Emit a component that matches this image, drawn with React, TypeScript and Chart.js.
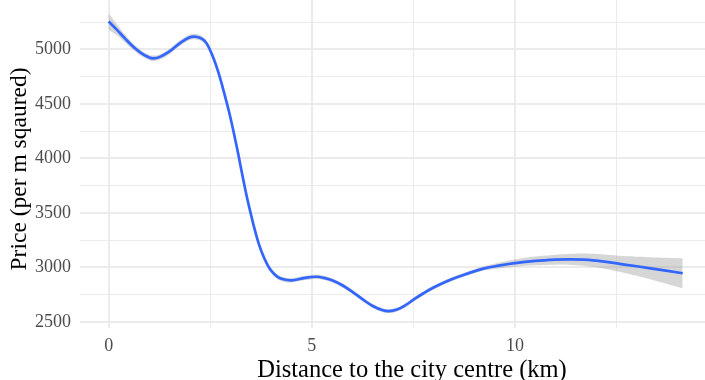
import React, { useEffect, useRef } from "react";
import { Chart, registerables } from "chart.js";

Chart.register(...registerables);

const distanceKm = [0, 0.2, 0.4, 0.6, 0.8, 1.0, 1.1, 1.25, 1.5, 1.75, 2.0, 2.15, 2.3, 2.4, 2.5, 2.6, 2.7, 2.8, 2.9, 3.0, 3.1, 3.2, 3.3, 3.4, 3.5, 3.6, 3.7, 3.8, 3.9, 4.0, 4.15, 4.3, 4.5, 4.8, 5.1, 5.3, 5.5, 5.75, 6.0, 6.25, 6.5, 6.75, 6.9, 7.1, 7.3, 7.5, 7.75, 8.0, 8.4, 8.8, 9.2, 9.6, 10.0, 10.5, 11.0, 11.3, 11.7, 12.2, 12.7, 13.3, 14.13];
const fittedPrice = [5255, 5180, 5100, 5025, 4965, 4925, 4917, 4928, 4980, 5055, 5110, 5115, 5095, 5060, 4990, 4900, 4790, 4660, 4520, 4370, 4200, 4020, 3830, 3650, 3490, 3340, 3210, 3110, 3030, 2970, 2915, 2890, 2880, 2900, 2913, 2903, 2880, 2835, 2775, 2707, 2645, 2606, 2598, 2613, 2650, 2702, 2762, 2815, 2884, 2938, 2985, 3015, 3038, 3058, 3070, 3073, 3070, 3052, 3025, 2993, 2945];
const upperBand = [5330, 5230, 5138, 5055, 4992, 4950, 4942, 4953, 5005, 5080, 5135, 5140, 5120, 5082, 5012, 4922, 4812, 4682, 4542, 4392, 4222, 4042, 3852, 3672, 3512, 3362, 3232, 3132, 3052, 2992, 2937, 2912, 2900, 2920, 2933, 2923, 2900, 2855, 2793, 2725, 2663, 2624, 2616, 2631, 2668, 2720, 2780, 2833, 2902, 2956, 3005, 3041, 3071, 3098, 3116, 3123, 3127, 3118, 3103, 3093, 3083];
const lowerBand = [5180, 5130, 5062, 4995, 4938, 4900, 4892, 4903, 4955, 5030, 5085, 5090, 5070, 5038, 4968, 4878, 4768, 4638, 4498, 4348, 4178, 3998, 3808, 3628, 3468, 3318, 3188, 3088, 3008, 2948, 2893, 2868, 2860, 2880, 2893, 2883, 2860, 2815, 2757, 2689, 2627, 2588, 2580, 2595, 2632, 2684, 2744, 2797, 2866, 2920, 2965, 2989, 3005, 3018, 3024, 3023, 3013, 2986, 2947, 2893, 2807];

const xTicks = [0, 2.5, 5, 7.5, 10, 12.5];
const yTicks = [2500, 2750, 3000, 3250, 3500, 3750, 4000, 4250, 4500, 4750, 5000, 5250];

const xTitle = "Distance to the city centre (km)";
const yTitle = "Price (per m sqaured)";

const SERIF = "'Liberation Serif', 'Times New Roman', serif";

export default function App() {
  const ref = useRef<HTMLCanvasElement | null>(null);

  useEffect(() => {
    document.body.style.margin = "0";
    const canvas = ref.current;
    if (!canvas) return;

    const toPts = (ys: number[]) => distanceKm.map((x, i) => ({ x, y: ys[i] }));

    const titlePlugin = {
      id: "axisTitles",
      afterDraw(chart: any) {
        const ctx = chart.ctx;
        ctx.save();
        ctx.fillStyle = "#000000";
        ctx.textAlign = "center";
        ctx.textBaseline = "alphabetic";
        ctx.font = `24.5px ${SERIF}`;
        ctx.fillText(xTitle, 412, 377);
        ctx.font = `23.5px ${SERIF}`;
        ctx.translate(26, 169);
        ctx.rotate(-Math.PI / 2);
        ctx.fillText(yTitle, 0, 0);
        ctx.restore();
      },
    };

    const chart = new Chart(canvas, {
      type: "line",
      data: {
        datasets: [
          {
            label: "upper",
            data: toPts(upperBand),
            borderWidth: 0,
            borderColor: "rgba(0,0,0,0)",
            pointRadius: 0,
            tension: 0.4,
            fill: false,
            order: 2,
          },
          {
            label: "lower",
            data: toPts(lowerBand),
            borderWidth: 0,
            borderColor: "rgba(0,0,0,0)",
            backgroundColor: "rgba(153,153,153,0.4)",
            pointRadius: 0,
            tension: 0.4,
            fill: "-1",
            order: 2,
          },
          {
            label: "fit",
            data: toPts(fittedPrice),
            borderColor: "#3366FF",
            borderWidth: 2.7,
            pointRadius: 0,
            tension: 0.4,
            fill: false,
            order: 1,
          },
        ],
      },
      options: {
        responsive: true,
        maintainAspectRatio: false,
        animation: false,
        layout: { padding: 0 },
        plugins: {
          legend: { display: false },
          tooltip: { enabled: false },
          title: { display: false },
        },
        scales: {
          x: {
            type: "linear",
            min: -0.705,
            max: 14.68,
            afterBuildTicks: (scale: any) => {
              scale.ticks = xTicks.map((v) => ({ value: v }));
            },
            afterFit: (scale: any) => {
              scale.height = 52;
              scale.paddingLeft = 0;
              scale.paddingRight = 0;
            },
            border: { display: false },
            grid: {
              color: "#ebebeb",
              lineWidth: (c: any) => (c.tick && c.tick.value % 5 === 0 ? 2 : 1),
              drawTicks: false,
            },
            ticks: {
              padding: 7,
              color: "#4d4d4d",
              font: { family: SERIF, size: 18 },
              maxRotation: 0,
              autoSkip: false,
              callback: (v: any) => (Number(v) % 5 === 0 ? String(v) : ""),
            },
          },
          y: {
            type: "linear",
            min: 2443,
            max: 5452,
            afterBuildTicks: (scale: any) => {
              scale.ticks = yTicks.map((v) => ({ value: v }));
            },
            afterFit: (scale: any) => {
              scale.width = 80;
              scale.paddingTop = 0;
              scale.paddingBottom = 0;
            },
            border: { display: false },
            grid: {
              color: "#ebebeb",
              lineWidth: (c: any) => (c.tick && c.tick.value % 500 === 0 ? 2 : 1),
              drawTicks: false,
            },
            ticks: {
              padding: 9,
              color: "#4d4d4d",
              font: { family: SERIF, size: 18 },
              autoSkip: false,
              callback: (v: any) => (Number(v) % 500 === 0 ? String(v) : ""),
            },
          },
        },
      },
      plugins: [titlePlugin],
    });

    return () => chart.destroy();
  }, []);

  return (
    <div style={{ width: 705, height: 380, position: "relative" }}>
      <canvas ref={ref} />
    </div>
  );
}
